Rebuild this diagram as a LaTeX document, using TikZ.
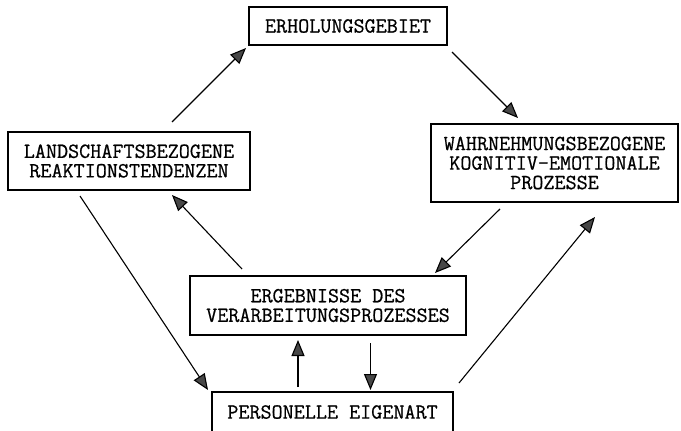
\documentclass[tikz,border=0pt]{standalone}
\usepackage{fontspec}
\newfontfamily\twfont[FakeBold=0.7]{Latin Modern Mono}
\usetikzlibrary{arrows.meta}
\tikzset{
  box/.style={draw, line width=1.2pt, inner sep=0pt, align=center,
    font=\twfont\fontsize{21.5}{19.5}\selectfont},
  arr/.style={line width=1.1pt, -{Triangle[length=16pt,width=13pt,fill=black!72]}}
}
\begin{document}
\begin{tikzpicture}[x=1pt,y=-1pt]
\useasboundingbox (0,0) rectangle (681,431);
\node[box, minimum width=198pt, minimum height=38pt] (erh) at (348,26) {ERHOLUNGSGEBIET};
\node[box, minimum width=242pt, minimum height=58pt] (land) at (129,161) {LANDSCHAFTSBEZOGENE\\REAKTIONSTENDENZEN};
\node[box, minimum width=247pt, minimum height=78pt] (wahr) at (554.5,163) {WAHRNEHMUNGSBEZOGENE\\KOGNITIV-EMOTIONALE\\PROZESSE};
\node[box, minimum width=276pt, minimum height=59pt] (erg) at (328,305.5) {ERGEBNISSE DES\\VERARBEITUNGSPROZESSES};
\node[box, minimum width=241pt, minimum height=40pt] (pers) at (332.5,412) {PERSONELLE EIGENART};
% connector end points
\coordinate (a1) at (172,122); \coordinate (b1) at (246,48);
\coordinate (a2) at (452,52);  \coordinate (b2) at (518,118);
\coordinate (a3) at (500,209); \coordinate (b3) at (435,273);
\coordinate (a4) at (242,269); \coordinate (b4) at (172,195);
\coordinate (a5) at (80,196);  \coordinate (b5) at (208,390);
\coordinate (a6) at (459,383); \coordinate (b6) at (595,217);
\coordinate (a7) at (298,387); \coordinate (b7) at (298,340);
\coordinate (a8) at (370.5,343); \coordinate (b8) at (370.5,390);
\draw[arr] (a1) -- (b1);
\draw[arr] (a2) -- (b2);
\draw[arr] (a3) -- (b3);
\draw[arr] (a4) -- (b4);
\draw[arr] (a5) -- (b5);
\draw[arr] (a6) -- (b6);
\draw[arr] (a7) -- (b7);
\draw[arr] (a8) -- (b8);
\end{tikzpicture}
\end{document}
